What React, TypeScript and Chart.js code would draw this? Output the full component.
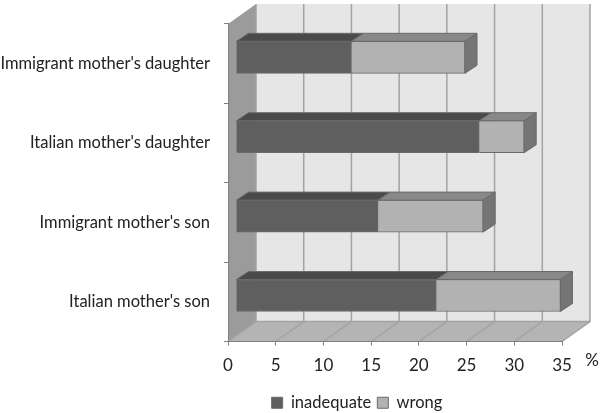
import React, { useEffect, useRef } from "react";
import { Chart, registerables } from "chart.js";

Chart.register(...registerables);

const categories = [
  "Immigrant mother's daughter",
  "Italian mother's daughter",
  "Immigrant mother's son",
  "Italian mother's son",
];
const inadequate = [12.1, 25.5, 14.9, 21];
const wrong = [11.9, 4.7, 11, 13];
const xTicks = [0, 5, 10, 15, 20, 25, 30, 35];

const FONT = "Lato, 'Open Sans', sans-serif";
const DX = 28;
const DY = -20;
const BAR_DX = 8;
const BAR_DY = -6.3;
const FACE_DX = 12;
const FACE_DY = -8;
const GRID = "#a3a3a3";

function poly(ctx: CanvasRenderingContext2D, pts: number[][], fill: string, stroke?: string) {
  ctx.beginPath();
  pts.forEach((p, i) => (i ? ctx.lineTo(p[0], p[1]) : ctx.moveTo(p[0], p[1])));
  ctx.closePath();
  ctx.fillStyle = fill;
  ctx.fill();
  if (stroke) {
    ctx.strokeStyle = stroke;
    ctx.lineWidth = 1;
    ctx.stroke();
  }
}

const box3d = {
  id: "box3d",
  afterLayout(chart: any) {
    const l = chart.legend;
    l.left += 76;
    l.right += 76;
    l.top += 8;
    l.bottom += 8;
  },
  beforeDraw(chart: any) {
    const { ctx, chartArea: a, scales } = chart;
    const x = scales.x;
    ctx.save();
    poly(ctx, [[a.left + DX, a.top + DY], [a.right + DX, a.top + DY], [a.right + DX, a.bottom + DY], [a.left + DX, a.bottom + DY]], "#e6e6e6");
    poly(ctx, [[a.left, a.top], [a.left + DX, a.top + DY], [a.left + DX, a.bottom + DY], [a.left, a.bottom]], "#9b9b9b");
    poly(ctx, [[a.left, a.bottom], [a.left + DX, a.bottom + DY], [a.right + DX, a.bottom + DY], [a.right, a.bottom]], "#b4b4b4");
    ctx.strokeStyle = GRID;
    ctx.lineWidth = 1.5;
    xTicks.forEach((t) => {
      const px = x.getPixelForValue(t);
      ctx.beginPath();
      ctx.moveTo(px, a.bottom);
      ctx.lineTo(px + DX, a.bottom + DY);
      ctx.lineTo(px + DX, a.top + DY);
      ctx.stroke();
    });
    ctx.beginPath();
    ctx.moveTo(a.left + DX, a.bottom + DY);
    ctx.lineTo(a.right + DX, a.bottom + DY);
    ctx.stroke();
    ctx.restore();
  },
  beforeDatasetsDraw(chart: any) {
    chart.ctx.save();
    chart.ctx.translate(BAR_DX, BAR_DY);
  },
  afterDatasetsDraw(chart: any) {
    const { ctx } = chart;
    const tops = ["#4a4a4a", "#888888"];
    chart.data.datasets.forEach((_: any, di: number) => {
      chart.getDatasetMeta(di).data.forEach((el: any) => {
        const top = el.y - el.height / 2;
        const bottom = el.y + el.height / 2;
        poly(ctx, [[el.base, top], [el.base + FACE_DX, top + FACE_DY], [el.x + FACE_DX, top + FACE_DY], [el.x, top]], tops[di], "#6a6a6a");
        if (di === chart.data.datasets.length - 1) {
          poly(ctx, [[el.x, top], [el.x + FACE_DX, top + FACE_DY], [el.x + FACE_DX, bottom + FACE_DY], [el.x, bottom]], "#757575", "#6a6a6a");
        }
      });
    });
    ctx.restore();
    const a = chart.chartArea;
    ctx.save();
    ctx.fillStyle = "#222222";
    ctx.font = "17px " + FONT;
    ctx.textAlign = "center";
    ctx.textBaseline = "middle";
    ctx.fillText("%", a.right + 30, a.bottom + 19);
    ctx.restore();
  },
};

export default function App() {
  const ref = useRef<HTMLCanvasElement>(null);
  useEffect(() => {
    const chart = new Chart(ref.current!, {
      type: "bar",
      data: {
        labels: categories,
        datasets: [
          { label: "inadequate", data: inadequate, backgroundColor: "#5f5f5f", borderColor: "#6a6a6a", borderWidth: 1, barThickness: 32 },
          { label: "wrong", data: wrong, backgroundColor: "#b2b2b2", borderColor: "#6a6a6a", borderWidth: 1, barThickness: 32 },
        ],
      },
      options: {
        indexAxis: "y",
        animation: false,
        responsive: false,
        layout: { padding: { left: 0, right: 38, top: 23, bottom: 0 } },
        scales: {
          x: {
            stacked: true,
            min: 0,
            max: 35,
            ticks: { stepSize: 5, color: "#222222", font: { family: FONT, size: 17 }, padding: 10, maxRotation: 0 },
            grid: { drawOnChartArea: false, drawTicks: true, tickLength: 4, color: "#808080" },
            border: { color: "#808080" },
            afterFit(s: any) {
              s.height = 39;
            },
          },
          y: {
            stacked: true,
            ticks: { color: "#222222", font: { family: FONT, size: 16.5 }, padding: 14, autoSkip: false },
            grid: { drawOnChartArea: false, drawTicks: true, tickLength: 4, color: "#808080" },
            border: { color: "#808080" },
            afterFit(s: any) {
              s.width = 228;
            },
          },
        },
        plugins: {
          tooltip: { enabled: false },
          legend: {
            position: "bottom",
            labels: { boxWidth: 11, boxHeight: 11, color: "#222222", font: { family: FONT, size: 16.5 }, padding: 6 },
          },
        },
      },
      plugins: [box3d],
    } as any);
    return () => chart.destroy();
  }, []);
  return (
    <div style={{ position: "fixed", left: 0, top: 0 }}>
      <canvas ref={ref} width={600} height={413} style={{ display: "block" }} />
    </div>
  );
}
